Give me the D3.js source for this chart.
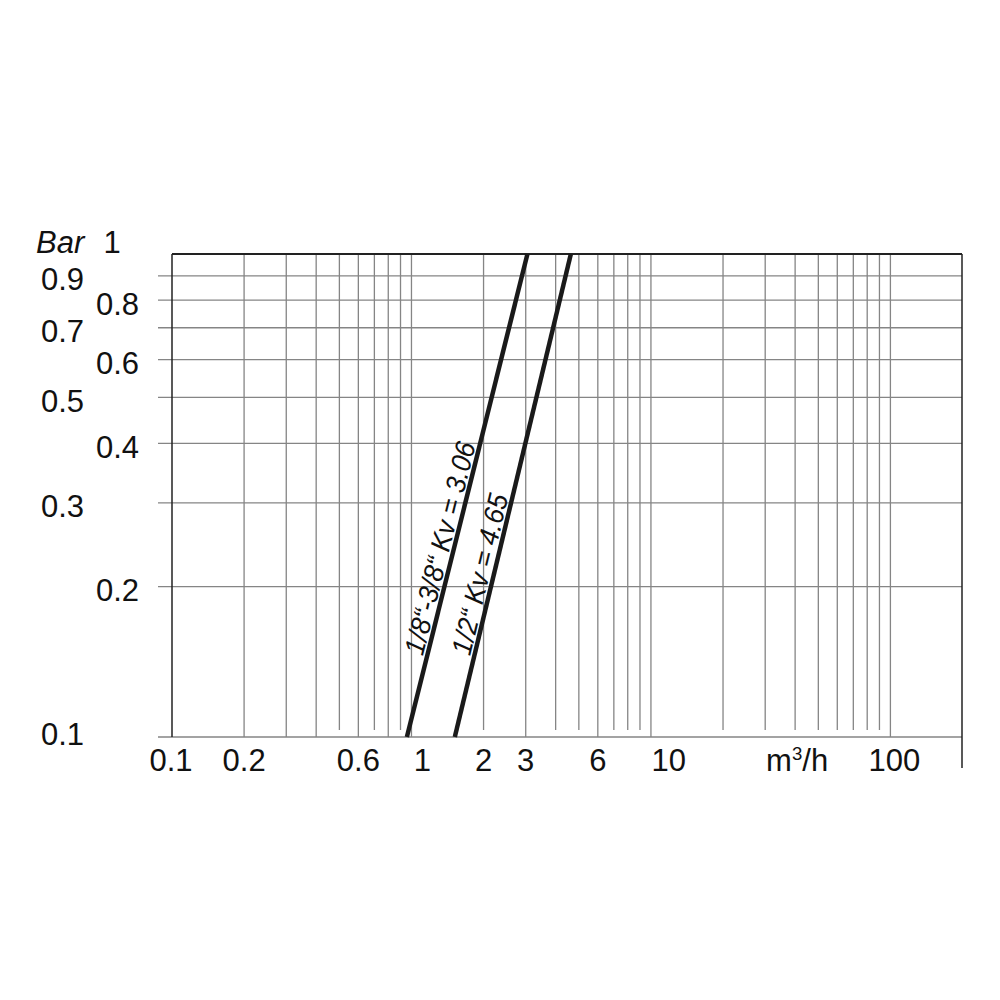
<!DOCTYPE html>
<html><head><meta charset="utf-8">
<script src="https://cdn.jsdelivr.net/npm/d3@7"></script>
<style>
html,body{margin:0;padding:0;background:#fff;}
text{font-family:'Liberation Sans',Arial,Helvetica,sans-serif;fill:#111;}
</style></head>
<body>
<svg id="c" width="1000" height="1000"></svg>
<script>
// ---- data ----
const xFullGrid = [0.2, 0.3, 0.4, 0.6, 0.8, 1, 3, 6, 10, 100];
const xShortGrid = [0.5, 0.7, 0.9, 2, 4, 5, 7, 8, 9, 20, 30, 40, 50, 60, 70, 80, 90];
const yGrid = [0.9, 0.8, 0.7, 0.6, 0.5, 0.4, 0.3, 0.2];
const xTickValues = [0.1, 0.2, 0.6, 1, 2, 3, 6, 10, 100];
const xTickLabels = ["0.1", "0.2", "0.6", "1", "2", "3", "6", "10", "100"];
const yTickValues = [1, 0.9, 0.8, 0.7, 0.6, 0.5, 0.4, 0.3, 0.2, 0.1];
const yTickLabels = ["1", "0.9", "0.8", "0.7", "0.6", "0.5", "0.4", "0.3", "0.2", "0.1"];
const seriesNames = ["1/8\u201c-3/8\u201c Kv = 3.06", "1/2\u201c Kv = 4.65"];
const linePressure = [0.0967, 1];
const lineFlowA = [0.957, 3.05];
const lineFlowB = [1.517, 4.63];
const labelPressure = 0.142;
const xUnit = ["m", "3", "/h"];
const yUnit = "Bar";

// ---- scales ----
const x = d3.scaleLog().domain([0.1, 200]).range([172, 962.5]);
const y = d3.scaleLog().domain([0.1, 1]).range([730, 254]);
const svg = d3.select("#c");
const topY = y(1), axisY = 737, leftX = x(0.1), rightX = 962;
const gridCol = "#858585", darkCol = "#222";
const FS = 31;

// horizontal grid
svg.append("g").selectAll("line").data(yGrid).join("line")
  .attr("x1", 158).attr("x2", rightX).attr("y1", d => y(d)).attr("y2", d => y(d))
  .attr("stroke", gridCol).attr("stroke-width", 1.3);
// vertical grid
svg.append("g").selectAll("line").data(xFullGrid).join("line")
  .attr("x1", d => x(d)).attr("x2", d => x(d)).attr("y1", topY).attr("y2", axisY)
  .attr("stroke", gridCol).attr("stroke-width", 1.3);
svg.append("g").selectAll("line").data(xShortGrid).join("line")
  .attr("x1", d => x(d)).attr("x2", d => x(d)).attr("y1", topY).attr("y2", y(0.1))
  .attr("stroke", gridCol).attr("stroke-width", 1.3);
// bottom axis line
svg.append("line").attr("x1", 158).attr("x2", rightX).attr("y1", axisY).attr("y2", axisY)
  .attr("stroke", gridCol).attr("stroke-width", 1.3);
// frame
svg.append("line").attr("x1", leftX).attr("x2", rightX).attr("y1", topY).attr("y2", topY)
  .attr("stroke", darkCol).attr("stroke-width", 2);
svg.append("line").attr("x1", leftX).attr("x2", leftX).attr("y1", topY).attr("y2", axisY)
  .attr("stroke", darkCol).attr("stroke-width", 1.5);
svg.append("line").attr("x1", rightX).attr("x2", rightX).attr("y1", topY).attr("y2", 768)
  .attr("stroke", darkCol).attr("stroke-width", 1.5);

// curves
const lineGen = d3.line().x(d => x(d[0])).y(d => y(d[1]));
const series = [lineFlowA, lineFlowB].map(f => f.map((q, i) => [q, linePressure[i]]));
svg.append("g").selectAll("path").data(series).join("path")
  .attr("d", lineGen).attr("fill", "none").attr("stroke", "#1a1a1a").attr("stroke-width", 4.5);

// curve labels
series.forEach((s, i) => {
  const x1 = x(s[0][0]), y1 = y(s[0][1]), x2 = x(s[1][0]), y2 = y(s[1][1]);
  const ang = Math.atan2(y2 - y1, x2 - x1) * 180 / Math.PI;
  const t = (Math.log(labelPressure) - Math.log(s[0][1])) / (Math.log(s[1][1]) - Math.log(s[0][1]));
  const px = x1 + (x2 - x1) * t, py = y1 + (y2 - y1) * t;
  svg.append("text").attr("transform", `translate(${px},${py}) rotate(${ang}) scale(0.94,1)`)
    .attr("y", -4).attr("font-size", 28).attr("font-style", "italic")
    .text(seriesNames[i]);
});

// x tick labels
const xNudge = {"0.1": -1, "1": 10.8, "10": 17.8, "100": 4};
svg.append("g").selectAll("text").data(xTickValues).join("text")
  .attr("x", (d, i) => x(d) + (xNudge[xTickLabels[i]] || 0)).attr("y", 771)
  .attr("text-anchor", "middle").attr("font-size", FS)
  .text((d, i) => xTickLabels[i]);
const u = svg.append("text").attr("x", x(40) + 2).attr("y", 771).attr("text-anchor", "middle")
  .attr("font-size", FS);
u.append("tspan").text(xUnit[0]);
u.append("tspan").attr("font-size", FS * 0.6).attr("dy", -11).text(xUnit[1]);
u.append("tspan").attr("dy", 11).text(xUnit[2]);

// y tick labels (two staggered columns)
svg.append("g").selectAll("text").data(yTickValues).join("text")
  .attr("x", (d, i) => d === 1 ? 103.5 : (i % 2 === 0 ? 96 : 41))
  .attr("y", d => d === 1 ? y(d) - 1 : y(d) + 14.5)
  .attr("font-size", FS)
  .text((d, i) => yTickLabels[i]);
svg.append("text").attr("x", 36).attr("y", 253).attr("font-size", FS)
  .attr("font-style", "italic").text(yUnit);
</script>
</body></html>
